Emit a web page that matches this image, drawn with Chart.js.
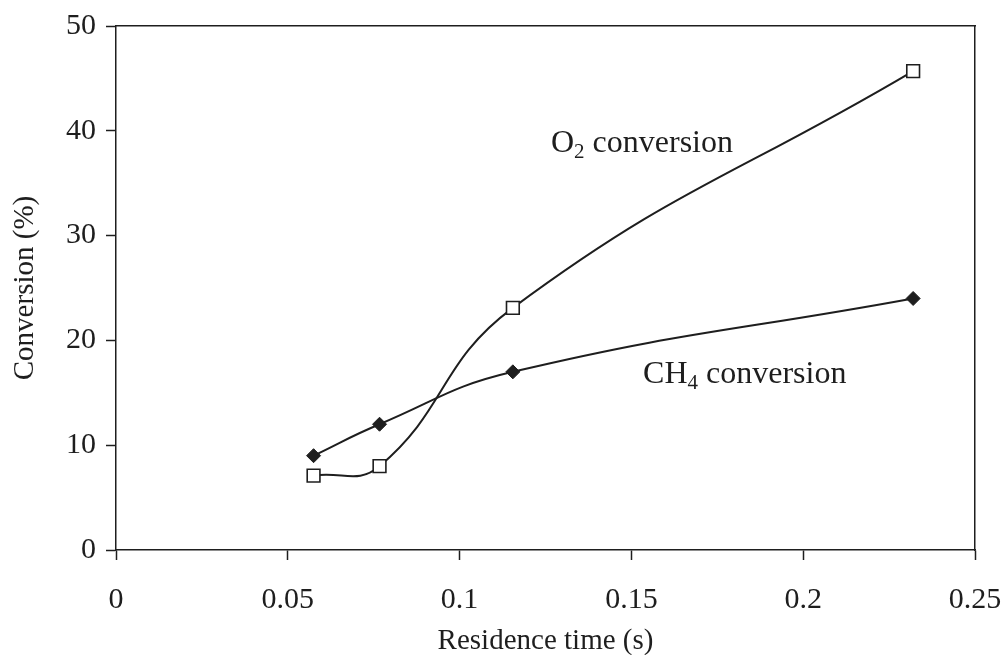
<!DOCTYPE html>
<html>
<head>
<meta charset="utf-8">
<script src="https://cdn.jsdelivr.net/npm/chart.js@4.4.1/dist/chart.umd.min.js"></script>
<style>
  html, body { margin: 0; padding: 0; background: #ffffff; }
  #wrap { width: 1003px; height: 655px; position: relative; }
</style>
</head>
<body>
<div id="wrap"><canvas id="c"></canvas></div>
<script>
// ---- data ----
const residenceTime = [0.0575, 0.0767, 0.1155, 0.232];
const o2Conversion  = [7.1, 8.0, 23.1, 45.7];
const ch4Conversion = [9.0, 12.0, 17.0, 24.0];
const xTicks = [0, 0.05, 0.1, 0.15, 0.2, 0.25];
const yTicks = [0, 10, 20, 30, 40, 50];
const xTitle = 'Residence time (s)';
const yTitle = 'Conversion (%)';

const FONT = '"Liberation Serif", "Times New Roman", serif';
const INK = '#1e1e1e';

const toPoints = (xs, ys) => xs.map((x, i) => ({ x: x, y: ys[i] }));

const labelPlugin = {
  id: 'seriesLabels',
  afterDatasetsDraw(chart) {
    const ctx = chart.ctx;
    const xs = chart.scales.x, ys = chart.scales.y;
    const items = [
      { main: 'O', sub: '2', rest: ' conversion', x: 0.1266, y: 37.98 },
      { main: 'CH', sub: '4', rest: ' conversion', x: 0.1534, y: 15.93 }
    ];
    ctx.save();
    ctx.fillStyle = INK;
    ctx.textBaseline = 'alphabetic';
    ctx.textAlign = 'left';
    items.forEach(it => {
      let px = xs.getPixelForValue(it.x);
      const py = ys.getPixelForValue(it.y);
      ctx.font = '32px ' + FONT;
      ctx.fillText(it.main, px, py);
      px += ctx.measureText(it.main).width;
      ctx.font = '21px ' + FONT;
      ctx.fillText(it.sub, px, py + 6);
      px += ctx.measureText(it.sub).width;
      ctx.font = '32px ' + FONT;
      ctx.fillText(it.rest, px, py);
    });
    ctx.restore();
  }
};

new Chart(document.getElementById('c'), {
  type: 'line',
  data: {
    datasets: [
      {
        label: 'O2 conversion',
        data: toPoints(residenceTime, o2Conversion),
        borderColor: INK,
        borderWidth: 2,
        tension: 0.45,
        pointStyle: 'rect',
        pointRadius: 9,
        pointHoverRadius: 9,
        pointBackgroundColor: '#ffffff',
        pointBorderColor: INK,
        pointBorderWidth: 1.6,
        xAxisID: 'x', yAxisID: 'y'
      },
      {
        label: 'CH4 conversion',
        data: toPoints(residenceTime, ch4Conversion),
        borderColor: INK,
        borderWidth: 2,
        tension: 0.45,
        pointStyle: 'rectRot',
        pointRadius: 7,
        pointHoverRadius: 7,
        pointBackgroundColor: INK,
        pointBorderColor: INK,
        pointBorderWidth: 1,
        xAxisID: 'x', yAxisID: 'y'
      }
    ]
  },
  options: {
    responsive: true,
    maintainAspectRatio: false,
    animation: false,
    events: [],
    layout: { padding: { top: 26, right: 28, left: 0, bottom: 0 } },
    plugins: { legend: { display: false }, tooltip: { enabled: false } },
    scales: {
      x: {
        type: 'linear',
        position: 'bottom',
        min: 0, max: 0.25,
        afterBuildTicks: s => { s.ticks = xTicks.map(v => ({ value: v })); },
        afterFit: s => { s.height = 105; s.paddingLeft = 0; s.paddingRight = 0; },
        ticks: {
          font: { family: FONT, size: 30 },
          color: INK,
          padding: 22,
          maxRotation: 0,
          autoSkip: false,
          callback: v => String(v)
        },
        grid: { display: true, drawOnChartArea: false, drawTicks: true, tickLength: 10, color: INK, tickWidth: 1.5 },
        border: { display: true, color: INK, width: 1.5 },
        title: { display: true, text: xTitle, font: { family: FONT, size: 29 }, color: INK, padding: { top: 0, bottom: -4 } }
      },
      y: {
        type: 'linear',
        position: 'left',
        min: 0, max: 50,
        afterBuildTicks: s => { s.ticks = yTicks.map(v => ({ value: v })); },
        afterFit: s => { s.width = 116; s.paddingTop = 0; s.paddingBottom = 0; },
        ticks: {
          font: { family: FONT, size: 30 },
          color: INK,
          padding: 10,
          autoSkip: false
        },
        grid: { display: true, drawOnChartArea: false, drawTicks: true, tickLength: 10, color: INK, tickWidth: 1.5 },
        border: { display: true, color: INK, width: 1.5 },
        title: { display: true, text: yTitle, font: { family: FONT, size: 29 }, color: INK, padding: { top: 8, bottom: 0 } }
      },
      x2: {
        type: 'linear', position: 'top', min: 0, max: 0.25,
        afterFit: s => { s.height = 0; s.paddingLeft = 0; s.paddingRight = 0; },
        ticks: { display: false },
        grid: { display: false },
        border: { display: true, color: INK, width: 1.5 }
      },
      y2: {
        type: 'linear', position: 'right', min: 0, max: 50,
        afterFit: s => { s.width = 0; s.paddingTop = 0; s.paddingBottom = 0; },
        ticks: { display: false },
        grid: { display: false },
        border: { display: true, color: INK, width: 1.5 }
      }
    }
  },
  plugins: [labelPlugin]
});
</script>
</body>
</html>
